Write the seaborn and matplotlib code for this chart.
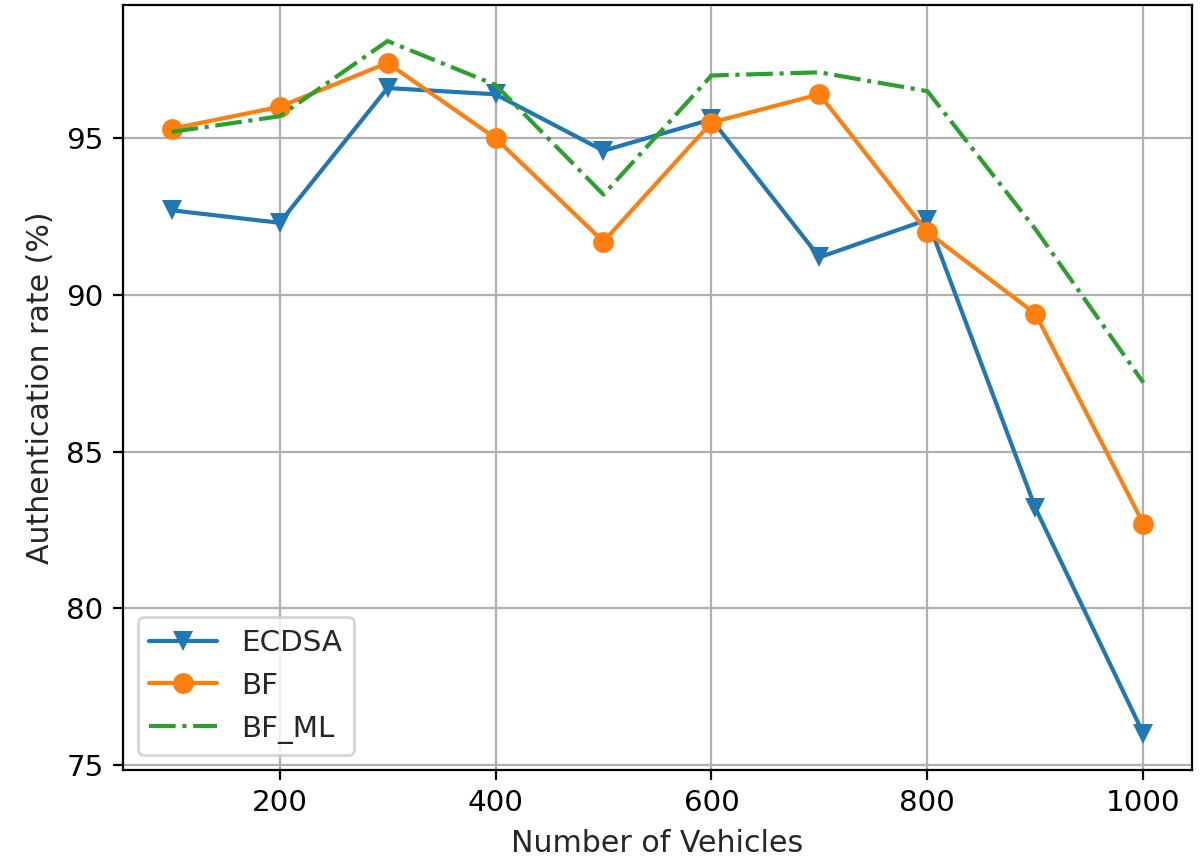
import numpy as np
import pandas as pd
import matplotlib
matplotlib.use("Agg")
import matplotlib.pyplot as plt
import seaborn as sns

vehicles = [100, 200, 300, 400, 500, 600, 700, 800, 900, 1000]
ecdsa = [92.7, 92.3, 96.6, 96.4, 94.6, 95.6, 91.2, 92.4, 83.2, 76.0]
bf = [95.3, 96.0, 97.4, 95.0, 91.7, 95.5, 96.4, 92.0, 89.4, 82.7]
bf_ml = [95.2, 95.7, 98.1, 96.7, 93.2, 97.0, 97.1, 96.5, 92.1, 87.2]

sns.set_theme(style="ticks", rc={
    "axes.edgecolor": "black",
    "axes.linewidth": 0.8,
    "xtick.color": "black",
    "ytick.color": "black",
    "axes.labelcolor": "#262626",
    "xtick.major.size": 3.5,
    "ytick.major.size": 3.5,
    "xtick.major.width": 0.8,
    "ytick.major.width": 0.8,
})
plt.rcParams["font.family"] = ["DejaVu Sans"]
FS = 10.6
plt.rcParams["font.size"] = FS

fig, ax = plt.subplots(figsize=(6, 4.295), dpi=200)
fig.subplots_adjust(left=0.1025, right=0.9933, top=0.9942, bottom=0.1036)

sns.lineplot(x=vehicles, y=ecdsa, ax=ax, color="#1f77b4", marker="v",
             markersize=7.5, markeredgewidth=0, linewidth=1.5, label="ECDSA")
sns.lineplot(x=vehicles, y=bf, ax=ax, color="#ff7f0e", marker="o",
             markersize=7.5, markeredgewidth=0, linewidth=1.5, label="BF")
sns.lineplot(x=vehicles, y=bf_ml, ax=ax, color="#2ca02c", linestyle="-.",
             linewidth=1.5, label="BF_ML")

ax.grid(True, color="#b0b0b0", linewidth=0.8)
ax.set_axisbelow(True)
ax.set_xticks([200, 400, 600, 800, 1000])
ax.set_yticks([75, 80, 85, 90, 95])
ax.tick_params(labelsize=FS)
ax.set_xlabel("Number of Vehicles", fontsize=10.8)
ax.set_ylabel("Authentication rate (%)", fontsize=10.8)
ax.set_xlim(55, 1045)
ax.set_ylim(74.84, 99.25)
for s in ax.spines.values():
    s.set_visible(True)
ax.legend(loc="lower left", fontsize=FS, frameon=True, fancybox=True,
          framealpha=0.8, edgecolor="#cccccc", handlelength=2.3)

fig.savefig("out.png", dpi=200)
